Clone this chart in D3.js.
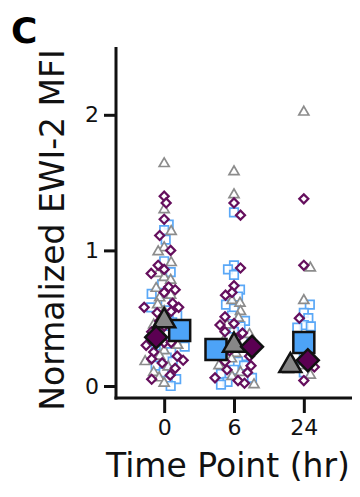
<!DOCTYPE html>
<html>
<head>
<meta charset="utf-8">
<script src="https://cdn.jsdelivr.net/npm/d3@7"></script>
<style>
  body { margin: 0; background: #fff; }
  svg { display: block; font-family: 'DejaVu Sans', sans-serif; }
</style>
</head>
<body>
<svg id="chart" width="360" height="497"></svg>
<script>
// time points (hr)
const timePoints = ['0', '6', '24'];
const yTicks = [0, 1, 2];

// individual donor values, per time point, per series
const grayPts = {
  '0': [1.64, 1.30, 1.14, 1.02, 0.99, 0.91, 0.83, 0.80, 0.78, 0.72, 0.67, 0.65, 0.60, 0.55, 0.50, 0.45, 0.40, 0.35, 0.30, 0.26, 0.22, 0.18, 0.14, 0.10, 0.06, 0.02],
  '6': [1.58, 1.41, 0.63, 0.61, 0.55, 0.50, 0.45, 0.38, 0.33, 0.28, 0.24, 0.20, 0.15, 0.10, 0.07, 0.01],
  '24': [2.02, 0.87, 0.63, 0.17, 0.15, 0.12, 0.08]
};
const bluePts = {
  '0': [1.19, 1.15, 1.08, 0.92, 0.84, 0.75, 0.68, 0.62, 0.58, 0.52, 0.47, 0.42, 0.38, 0.34, 0.30, 0.29, 0.25, 0.21, 0.18, 0.15, 0.10, 0.05, 0.00],
  '6': [1.28, 0.89, 0.86, 0.82, 0.71, 0.66, 0.60, 0.57, 0.52, 0.48, 0.44, 0.40, 0.36, 0.33, 0.30, 0.25, 0.22, 0.18, 0.15, 0.12, 0.09, 0.06, 0.03, 0.01],
  '24': [0.60, 0.54, 0.50, 0.45, 0.44, 0.43, 0.28, 0.21, 0.14, 0.10]
};
const purplePts = {
  '0': [1.40, 1.35, 1.23, 1.11, 1.00, 0.89, 0.86, 0.83, 0.73, 0.71, 0.69, 0.61, 0.58, 0.58, 0.55, 0.54, 0.48, 0.44, 0.40, 0.37, 0.32, 0.32, 0.30, 0.25, 0.22, 0.20, 0.19, 0.17, 0.13, 0.08, 0.05],
  '6': [1.35, 1.26, 0.87, 0.74, 0.69, 0.67, 0.51, 0.46, 0.45, 0.40, 0.39, 0.35, 0.30, 0.26, 0.22, 0.18, 0.15, 0.12, 0.10, 0.06, 0.04, 0.02],
  '24': [1.38, 0.89, 0.50, 0.14, 0.04]
};

// summary (large markers)
const grayMean = [0.48, 0.30, 0.15];
const blueMean = [0.41, 0.27, 0.32];
const purpleMean = [0.36, 0.29, 0.19];

const series = [
  {key: 'blue', pts: bluePts, mean: blueMean, shape: 'square', color: '#5aa8f7', fill: '#4da3f7'},
  {key: 'gray', pts: grayPts, mean: grayMean, shape: 'triangle', color: '#8c8c8c', fill: '#878787'},
  {key: 'purple', pts: purplePts, mean: purpleMean, shape: 'diamond', color: '#650f5d', fill: '#5b0052'}
];

const svg = d3.select('#chart');

const x = d3.scalePoint().domain(timePoints).range([116, 352]).padding(0.69);
const y = d3.scaleLinear().domain([0, 2.5]).range([386, 47]);

// beeswarm: highest value first, take the nearest free slot (right before left)
function dodge(items, minDist) {
  let placed = [];
  let sorted = items.slice().sort((a, b) => b.v - a.v);
  sorted.forEach(d => {
    let py = y(d.v);
    for (let k = 0; k < 400; k++) {
      let off = k === 0 ? 0 : (k % 2 ? 1 : -1) * Math.ceil(k / 2) * 0.5;
      let ok = placed.every(p => (p.dx - off) ** 2 + (p.py - py) ** 2 >= minDist * minDist);
      if (ok) { d.dx = off; d.py = py; break; }
    }
    placed.push(d);
  });
  return items;
}

function symbolPath(shape, big) {
  if (shape === 'square') return d3.symbol(d3.symbolSquare, big ? 21 * 21 : 8.5 * 8.5)();
  if (shape === 'triangle') {
    let w = big ? 22 : 10;
    return d3.symbol(d3.symbolTriangle, 3 * Math.sqrt(3) * (w / (2 * Math.sqrt(3))) ** 2)();
  }
  let s = big ? 15.5 : 6.4;
  return d3.symbol(d3.symbolSquare, s * s)();
}

// small points
let allPts = [];
timePoints.forEach(t => {
  let grp = [];
  series.forEach((s, si) => s.pts[t].forEach(v => grp.push({t, v, s, si})));
  dodge(grp, 7);
  allPts = allPts.concat(grp);
});

const ptsG = svg.append('g');
series.forEach(s => {
  ptsG.selectAll(null)
    .data(allPts.filter(d => d.s === s))
    .enter()
    .append('path')
    .attr('d', symbolPath(s.shape, false))
    .attr('transform', d => `translate(${x(d.t) + d.dx},${y(d.v)})` + (s.shape === 'diamond' ? ' rotate(45)' : ''))
    .attr('fill', 'white')
    .attr('fill-opacity', 0.85)
    .attr('stroke', s.color)
    .attr('stroke-width', s.shape === 'diamond' ? 2.2 : 1.7);
});

// mean markers
let means = [];
timePoints.forEach((t, i) => {
  let grp = series.map(s => ({t, v: s.mean[i], s}));
  dodge(grp, 18);
  means = means.concat(grp);
});

const meanG = svg.append('g');
series.forEach(s => {
  meanG.selectAll(null)
    .data(means.filter(d => d.s === s))
    .enter()
    .append('path')
    .attr('d', symbolPath(s.shape, true))
    .attr('transform', d => `translate(${x(d.t) + d.dx},${y(d.v)})` + (s.shape === 'diamond' ? ' rotate(45)' : ''))
    .attr('fill', s.fill)
    .attr('stroke', '#111')
    .attr('stroke-width', 2.5)
    .attr('stroke-linejoin', 'miter');
});

// axes
const yAxis = svg.append('g')
  .attr('transform', 'translate(116,0)')
  .call(d3.axisLeft(y).tickValues(yTicks).tickFormat(d3.format('d')).tickSize(12).tickPadding(5));
yAxis.select('.domain').attr('d', 'M0,47V399.5');

const xAxis = svg.append('g')
  .attr('transform', 'translate(0,398)')
  .call(d3.axisBottom(x).tickSize(15).tickPadding(6));
xAxis.select('.domain').attr('d', 'M114.5,0H352');

svg.selectAll('.tick text').attr('font-size', 22).attr('fill', '#111').attr('font-family', 'DejaVu Sans, sans-serif');
svg.selectAll('.domain, .tick line').attr('stroke', '#111').attr('stroke-width', 3);

// titles
svg.append('text')
  .attr('transform', 'translate(64,230) rotate(-90)')
  .attr('text-anchor', 'middle')
  .attr('font-size', 33)
  .attr('fill', '#111')
  .text('Normalized EWI-2 MFI');

svg.append('text')
  .attr('x', 228)
  .attr('y', 477)
  .attr('text-anchor', 'middle')
  .attr('font-size', 33)
  .attr('fill', '#111')
  .text('Time Point (hr)');

svg.append('text')
  .attr('x', 11)
  .attr('y', 43)
  .attr('font-size', 36)
  .attr('font-weight', 'bold')
  .attr('fill', '#000')
  .text('C');
</script>
</body>
</html>
